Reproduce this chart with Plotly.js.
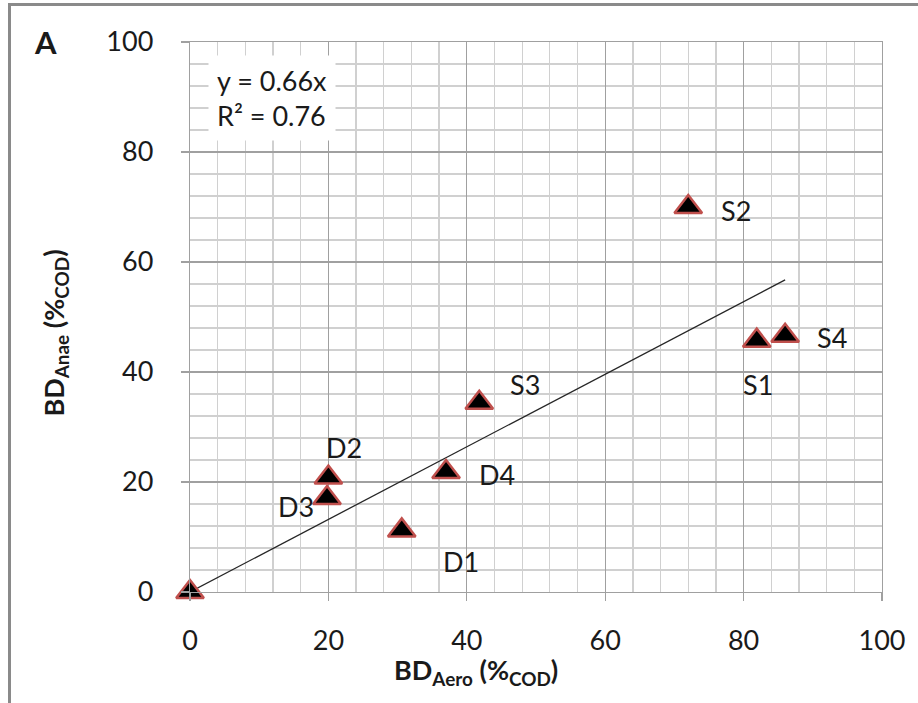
<!DOCTYPE html>
<html>
<head>
<meta charset="utf-8">
<script src="https://cdn.plot.ly/plotly-3.0.1.min.js"></script>
<style>
  html, body { margin: 0; padding: 0; background: #fff; overflow: hidden; }
  #chart { width: 918px; height: 703px; }
  #frame { position: absolute; left: 8px; top: 3px; width: 1000px; height: 1000px;
           border-left: 3px solid #8a8a8a; border-top: 3px solid #8a8a8a; pointer-events: none; }
</style>
</head>
<body>
<div id="chart"></div>
<div id="frame"></div>
<script>
// ---- data ----
const sampleNames = ["0", "D3", "D2", "D1", "D4", "S3", "S2", "S1", "S4"];
const bdAero = [0, 19.8, 20.0, 30.6, 37.0, 41.8, 72.0, 81.9, 86.0];
const bdAnae = [0, 17.1, 20.8, 11.2, 21.8, 34.4, 70.0, 45.7, 46.6];
const trendSlope = 0.66;
const trendR2 = 0.76;
const axisTicks = [0, 20, 40, 60, 80, 100];
const panelLetter = "A";

// ---- styling (label offsets in px) ----
const labelShiftX = [0, -31, 16, 59, 51, 46, 48, 1, 47];
const labelShiftY = [0, -9, 30, -31, -2, 18, -3, -44, -2];

const FONT = "Lato, 'Open Sans', sans-serif";
const TXT = "#1a1a1a";

const xMax = Math.max(...bdAero);
const trend = {
  x: [0, xMax], y: [0, trendSlope * xMax],
  mode: "lines", type: "scatter",
  line: { color: "#262626", width: 1.3 },
  hoverinfo: "skip", showlegend: false
};
const pts = {
  x: bdAero, y: bdAnae, mode: "markers", type: "scatter",
  marker: { symbol: "triangle-up", size: 24, color: "#000000",
            line: { color: "#c0504d", width: 2.5 } },
  showlegend: false, cliponaxis: false
};

const annotations = [];
sampleNames.forEach((n, i) => {
  if (i === 0) return;
  annotations.push({
    x: bdAero[i], y: bdAnae[i], xref: "x", yref: "y", text: n, showarrow: false,
    xshift: labelShiftX[i], yshift: labelShiftY[i],
    font: { family: FONT, size: 27, color: TXT }
  });
});
annotations.push({
  xref: "paper", yref: "paper", x: 0.1185, y: 0.898, xanchor: "center", yanchor: "middle",
  text: "y = " + trendSlope.toFixed(2) + "x<br>R² = " + trendR2.toFixed(2),
  align: "left", showarrow: false, bgcolor: "#ffffff", borderpad: 8,
  font: { family: FONT, size: 27, color: TXT }
});
annotations.push({
  xref: "paper", yref: "paper", x: -0.2095, y: 1.0, xanchor: "center", yanchor: "middle",
  text: "<b>" + panelLetter + "</b>", showarrow: false,
  font: { family: FONT, size: 31, color: TXT }
});
annotations.push({
  xref: "paper", yref: "paper", x: 0.413, y: -0.145, xanchor: "center", yanchor: "middle",
  text: "<b>BD<sub>Aero</sub> (%<sub>COD</sub>)</b>", showarrow: false,
  font: { family: FONT, size: 27, color: TXT }
});
annotations.push({
  xref: "paper", yref: "paper", x: -0.195, y: 0.47, xanchor: "center", yanchor: "middle",
  text: "<b>BD<sub>Anae</sub> (%<sub>COD</sub>)</b>", showarrow: false, textangle: -90,
  font: { family: FONT, size: 27, color: TXT }
});

const axisCommon = {
  range: [0, 100], tickvals: axisTicks, ticktext: axisTicks.map(String),
  ticks: "outside", ticklen: 8, tickwidth: 1.3, tickcolor: "#a0a0a0",
  showline: true, linecolor: "#a0a0a0", linewidth: 1.3, mirror: true,
  showgrid: true, gridcolor: "#a0a0a0", gridwidth: 1.3, zeroline: false,
  minor: { dtick: 4, tick0: 0, showgrid: true, gridcolor: "#d0d0d0", gridwidth: 1.3, ticks: "" },
  tickfont: { family: FONT, size: 27, color: TXT }, fixedrange: true
};

const layout = {
  width: 918, height: 703,
  margin: { l: 190, r: 36, t: 42, b: 111 },
  paper_bgcolor: "#ffffff", plot_bgcolor: "#ffffff",
  xaxis: Object.assign({}, axisCommon, { ticklabelstandoff: 16 }),
  yaxis: Object.assign({}, axisCommon, { ticklabelstandoff: 22 }),
  annotations: annotations,
  showlegend: false
};

Plotly.newPlot("chart", [trend, pts], layout, { displayModeBar: false, staticPlot: true });
</script>
</body>
</html>
